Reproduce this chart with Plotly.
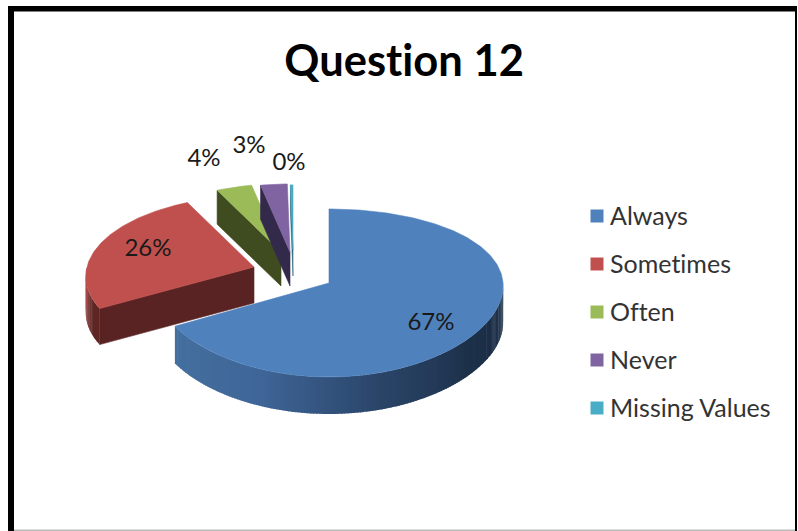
import math
import plotly.graph_objects as go

title_text = "Question 12"
categories = ["Always", "Sometimes", "Often", "Never", "Missing Values"]
values = [67, 26, 4, 3, 0.3]
percent_labels = ["67%", "26%", "4%", "3%", "0%"]

# drawing constants
W, H = 798, 531
RX, RY, PERSP = 174, 82.8, 0.119
CENTERS = [(329, 283), (254, 267), (281, 252), (290, 252), (293, 250)]
SCALES = [1.0, 0.96, 0.92, 0.92, 0.88]
X_PERSP = [0.3, 1, 1, 1, 1]
DEPTHS = [37, 36, 34, 34, 26]
TOP = ["#4F81BD", "#C0504D", "#9BBB59", "#8064A2", "#4BACC6"]
CUT = ["#2b4668", "#5A2323", "#3F4C20", "#33294A", "#2b6a7c"]
LABEL_POS = [(431, 324), (148, 250), (204, 160), (249, 147), (289, 164)]
LEGEND_Y = [216, 264, 312, 360, 408]
LEGEND_TEXT_Y = [219, 267, 315, 363, 411]
FONT = "Lato, Carlito, Calibri, sans-serif"

def pt(i, deg):
    a = math.radians(deg)
    X, Y = math.sin(a), math.cos(a)
    s = SCALES[i] / (1 + PERSP * Y)
    sx = SCALES[i] / (1 + PERSP * X_PERSP[i] * Y)
    return CENTERS[i][0] + RX * X * sx, CENTERS[i][1] - RY * Y * s

def mix(c1, c2, t):
    a = [int(c1[k:k+2], 16) for k in (1, 3, 5)]
    b = [int(c2[k:k+2], 16) for k in (1, 3, 5)]
    return "#%02x%02x%02x" % tuple(round(p + (q - p) * t) for p, q in zip(a, b))

def arc(i, a0, a1, step=1.0):
    n = max(2, int(abs(a1 - a0) / step) + 1)
    return [pt(i, a0 + (a1 - a0) * k / (n - 1)) for k in range(n)]

def poly(fig, pts, color, name=None, lw=0.6):
    fig.add_trace(go.Scatter(
        x=[p[0] for p in pts] + [pts[0][0]],
        y=[p[1] for p in pts] + [pts[0][1]],
        mode="lines", fill="toself", fillcolor=color,
        line=dict(color=color, width=lw),
        hoverinfo="skip", showlegend=False, name=name))

fig = go.Figure()
total = sum(values)
spans = []
angle = 0.0
for v in values:
    spans.append((angle, angle + v / total * 360))
    angle += v / total * 360

# rim gradient stops: from the slice's clockwise start to its end
rim_grad = {0: ["#1A2B42", "#1D3049", "#2B466A", "#3F6698", "#44709F"],
            1: ["#5E2624", "#5E2624", "#7A302E", "#9A3F3C", "#B04A47"]}
for i, (a0, a1) in enumerate(spans):
    d = DEPTHS[i]
    cx, cy = CENTERS[i]
    if i > 0:
        rx, ry = pt(i, a0)
        poly(fig, [(cx, cy), (rx, ry), (rx, ry + d), (cx, cy + d)], CUT[i])
    if i == 0:
        lo, hi = max(a0, 90), a1
    elif i == 1:
        lo, hi = a0, min(a1, 270)
    else:
        lo, hi = None, None
    if lo is not None:
        stops = rim_grad[i]
        steps = int(hi - lo) + 1
        for k in range(steps):
            t0 = lo + (hi - lo) * k / steps
            t1 = min(lo + (hi - lo) * (k + 1.4) / steps, hi)
            t = k / max(1, steps - 1) * (len(stops) - 1)
            j = min(int(t), len(stops) - 2)
            col = mix(stops[j], stops[j + 1], t - j)
            edge = arc(i, t0, t1, 0.5)
            poly(fig, edge + [(x, y + d) for x, y in reversed(edge)], col, lw=0)
    poly(fig, [(cx, cy)] + arc(i, a0, a1), TOP[i], categories[i])

fig.add_trace(go.Scatter(
    x=[p[0] for p in LABEL_POS], y=[p[1] for p in LABEL_POS],
    mode="text", text=percent_labels,
    textfont=dict(family=FONT, size=24, color="#1a1a1a"),
    hoverinfo="skip", showlegend=False))

fig.add_trace(go.Scatter(
    x=[597] * len(categories), y=LEGEND_Y, mode="markers",
    marker=dict(symbol="square", size=13, color=TOP),
    hoverinfo="skip", showlegend=False))
fig.add_trace(go.Scatter(
    x=[610] * len(categories), y=LEGEND_TEXT_Y, mode="text", text=categories,
    textposition="middle right",
    textfont=dict(family=FONT, size=25, color="#333333"),
    hoverinfo="skip", showlegend=False))

shapes = [dict(type="rect", xref="x", yref="y", x0=a, x1=b, y0=c, y1=d,
               fillcolor=col, line=dict(width=0), layer="below")
          for a, b, c, d, col in [
              (8, 14, 6, 531, "#000000"),
              (8, 796, 6, 11.5, "#000000"),
              (795, 797, 6, 531, "#000000"),
              (14, 795, 529.5, 531, "#BBBBBB"),
          ]]

fig.update_layout(
    width=W, height=H, margin=dict(l=0, r=0, t=0, b=0),
    paper_bgcolor="white", plot_bgcolor="white", showlegend=False,
    shapes=shapes,
    xaxis=dict(range=[0, W], visible=False, fixedrange=True),
    yaxis=dict(range=[H, 0], visible=False, fixedrange=True),
    annotations=[dict(text="<b>%s</b>" % title_text, x=404, y=59, xref="x", yref="y",
                      showarrow=False, font=dict(family=FONT, size=43.5, color="#000000"))],
)
post = ("document.body.style.margin='0';"
        "var s=document.createElement('style');"
        "s.textContent='svg text{font-variant-ligatures:none;"
        "font-feature-settings:\"liga\" 0,\"clig\" 0;letter-spacing:0.01px}';"
        "document.head.appendChild(s);")
fig.write_html("out.html", config=dict(displayModeBar=False), post_script=post)
